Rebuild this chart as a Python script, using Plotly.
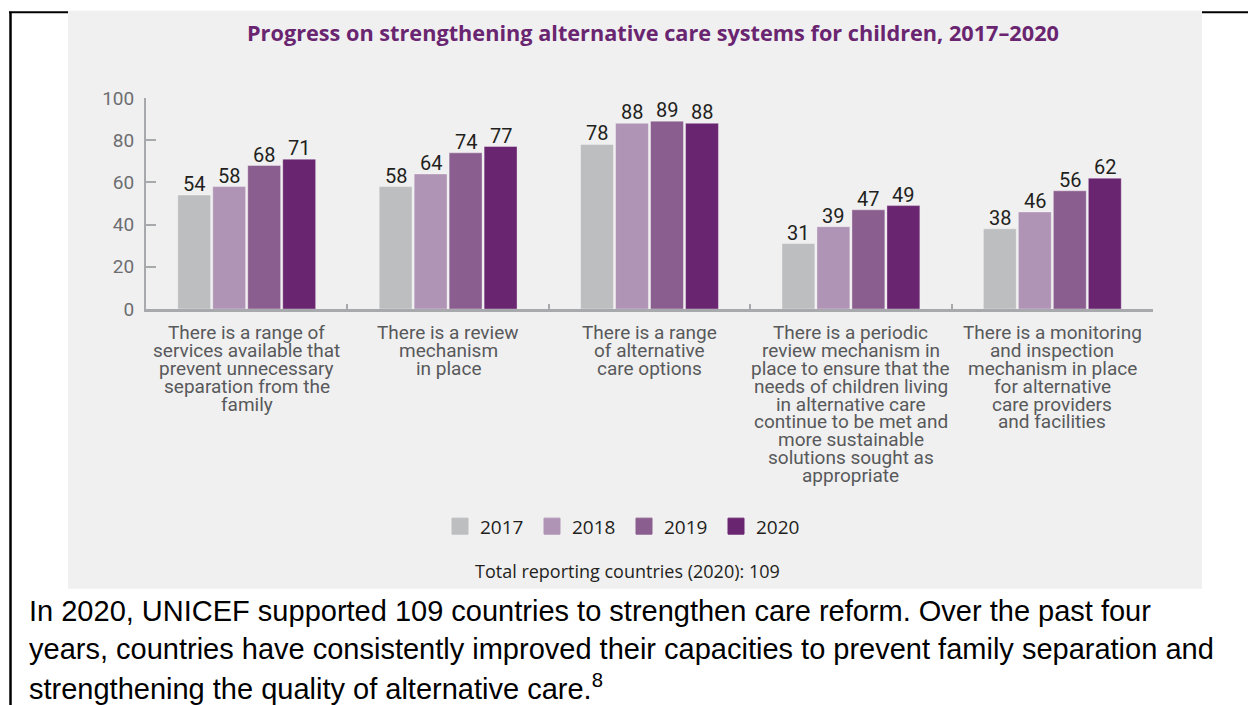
import plotly.graph_objects as go

# ---------------- data ----------------
categories = [
    "There is a range of<br>services available that<br>prevent unnecessary<br>separation from the<br>family",
    "There is a review<br>mechanism<br>in place",
    "There is a range<br>of alternative<br>care options",
    "There is a periodic<br>review mechanism in<br>place to ensure that the<br>needs of children living<br>in alternative care<br>continue to be met and<br>more sustainable<br>solutions sought as<br>appropriate",
    "There is a monitoring<br>and inspection<br>mechanism in place<br>for alternative<br>care providers<br>and facilities",
]
years = ["2017", "2018", "2019", "2020"]
values_2017 = [54, 58, 78, 31, 38]
values_2018 = [58, 64, 88, 39, 46]
values_2019 = [68, 74, 89, 47, 56]
values_2020 = [71, 77, 88, 49, 62]
series = [values_2017, values_2018, values_2019, values_2020]
colors = ["#bcbec0", "#b094b6", "#8a5e8e", "#6a2570"]
y_ticks = [0, 20, 40, 60, 80, 100]

title_text = "Progress on strengthening alternative care systems for children, 2017–2020"
note_text = "Total reporting countries (2020): 109"
paragraph_lines = [
    "In 2020, UNICEF supported 109 countries to strengthen care reform. Over the past four",
    "years, countries have consistently improved their capacities to prevent family separation and",
    "strengthening the quality of alternative care.<sup>8</sup>",
]

# ---------------- layout geometry (pixels) ----------------
FIG_W, FIG_H = 1248, 705
L, R, T, B = 146, 1153, 98.3, 309.5
W, H = R - L, B - T
BARGAP, BARGROUPGAP = 0.305, 0.06


def px(x):
    return (x - L) / W


def py(y):
    return (B - y) / H


fig = go.Figure()

for year, vals, col in zip(years, series, colors):
    fig.add_trace(go.Bar(
        x=categories, y=vals, name=year,
        marker=dict(color=col, line=dict(color="rgba(255,255,255,0.35)", width=1)),
        showlegend=False, hoverinfo="skip",
    ))

# legend entries (square swatches)
for year, col in zip(years, colors):
    fig.add_trace(go.Scatter(
        x=[categories[0]], y=[None], mode="markers", name=year,
        marker=dict(symbol="square", size=16, color=col, line=dict(color=col, width=1)),
        showlegend=True, hoverinfo="skip",
    ))

shapes = [
    # page border lines
    dict(type="line", xref="paper", yref="paper", x0=px(9), x1=px(1248), y0=py(12.5), y1=py(12.5),
         line=dict(color="black", width=2), layer="below"),
    dict(type="line", xref="paper", yref="paper", x0=px(10.5), x1=px(10.5), y0=py(12), y1=py(710),
         line=dict(color="black", width=2.5), layer="below"),
    # grey chart panel
    dict(type="rect", xref="paper", yref="paper", x0=px(68), x1=px(1202), y0=py(11), y1=py(589.5),
         fillcolor="#f0f0f0", line=dict(width=0), layer="below"),
]

annotations = []
# value labels above bars (anchored to data values; shifted to each bar of the group)
slot = (W / len(categories)) * (1 - BARGAP) / len(years)
for k, vals in enumerate(series):
    shift = (k - (len(years) - 1) / 2) * slot
    for cat, v in zip(categories, vals):
        annotations.append(dict(
            text=str(v), xref="x", yref="y", x=cat, y=v, xshift=shift, yshift=-3,
            xanchor="center", yanchor="bottom", showarrow=False,
            font=dict(family="Roboto", size=20, color="#231f20"),
        ))
# title
annotations.append(dict(
    text="<b>" + title_text + "</b>", xref="paper", yref="paper", x=px(652.5), y=py(32.5),
    xanchor="center", yanchor="middle", showarrow=False,
    font=dict(family="Open Sans", size=21.7, color="#6a2570"),
))
# category labels, line by line
LINE_H = 17.9
for cat in categories:
    for j, line in enumerate(cat.split("<br>")):
        annotations.append(dict(
            text=line, xref="x", yref="paper", x=cat, y=py(333 + j * LINE_H),
            xanchor="center", yanchor="middle", showarrow=False,
            font=dict(family="Roboto", size=19, color="#58595b"),
        ))
# note
annotations.append(dict(
    text=note_text, xref="paper", yref="paper", x=px(627), y=py(572),
    xanchor="center", yanchor="middle", showarrow=False,
    font=dict(family="Open Sans", size=18, color="#231f20"),
))
# paragraph
for k, line in enumerate(paragraph_lines):
    annotations.append(dict(
        text=line, xref="paper", yref="paper", x=px(27), y=py(612 + k * 38),
        xanchor="left", yanchor="middle", showarrow=False, align="left",
        font=dict(family="Liberation Sans, Arial", size=29, color="#000000"),
    ))

fig.update_layout(
    width=FIG_W, height=FIG_H,
    margin=dict(l=L, r=FIG_W - R, t=T, b=FIG_H - B, autoexpand=False),
    paper_bgcolor="white", plot_bgcolor="rgba(0,0,0,0)",
    barmode="group", bargap=BARGAP, bargroupgap=BARGROUPGAP,
    shapes=shapes, annotations=annotations,
    legend=dict(
        orientation="h", x=px(440), xanchor="left", y=py(527), yanchor="middle",
        font=dict(family="Open Sans", size=19, color="#231f20"),
        bgcolor="rgba(0,0,0,0)", entrywidth=47, entrywidthmode="pixels",
        traceorder="normal",
    ),
    xaxis=dict(
        type="category", range=[-0.5, 4.5], showline=True, linecolor="#a7a9ac", linewidth=3,
        ticks="inside", tickson="boundaries", ticklen=5, tickwidth=1.5, tickcolor="#a7a9ac",
        showticklabels=False, showgrid=False, zeroline=False, fixedrange=True,
    ),
    yaxis=dict(
        range=[0, 100], tickvals=y_ticks, showline=True, linecolor="#a7a9ac", linewidth=2,
        ticks="inside", ticklen=10, tickwidth=2, tickcolor="#a7a9ac",
        showgrid=False, zeroline=False, ticklabelstandoff=6,
        tickfont=dict(family="Roboto", size=19, color="#6d6e71"), fixedrange=True,
    ),
    showlegend=True,
)

fig.write_html(
    "out.html",
    config={"displayModeBar": False},
    post_script="document.body.style.margin='0px';document.body.style.overflow='hidden';",
)
